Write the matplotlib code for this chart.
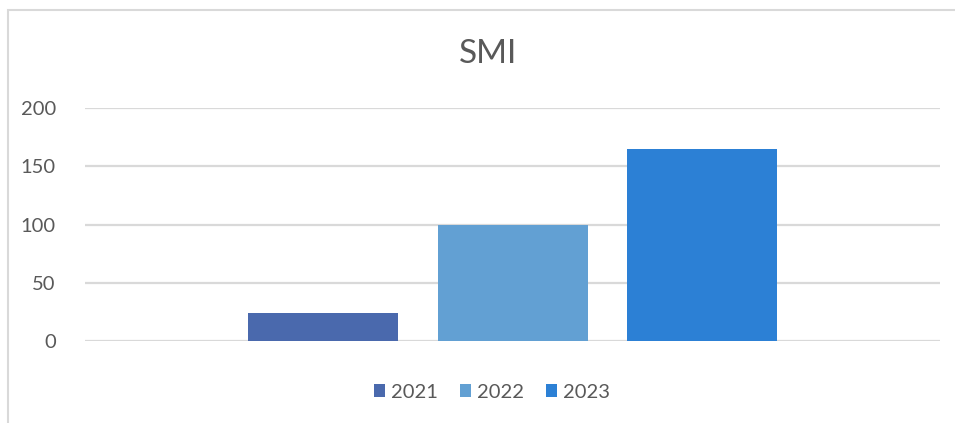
import matplotlib.pyplot as plt
from matplotlib.patches import Rectangle

# valores
series = ['2021', '2022', '2023']
valores = [24, 100, 165]
cores = ['#4a69ad', '#62a0d3', '#2c80d5']
yticks = [0, 50, 100, 150, 200]

plt.rcParams['font.family'] = ['Lato', 'DejaVu Sans']
cinza = '#595959'

fig = plt.figure(figsize=(9.55, 4.23), dpi=100)
ax = fig.add_axes([85/955, 1 - 341/423, 855/955, (341 - 108)/423])

largura = 150/855
passo = 189.5/855
for i, (s, v, c) in enumerate(zip(series, valores, cores)):
    ax.bar((i - 1)*passo, v, width=largura, color=c, label=s, zorder=3)

ax.set_xlim(-0.5, 0.5)
ax.set_ylim(0, 200)
ax.set_yticks(yticks)
ax.set_xticks([])
ax.grid(axis='y', color='#d9d9d9', linewidth=1.6, zorder=0)
ax.tick_params(axis='y', length=0, pad=21, labelsize=14.5, labelcolor=cinza)
for sp in ax.spines.values():
    sp.set_visible(False)

fig.text(488/955, 1 - 54/423, 'SMI', ha='center', va='center', fontsize=24, color=cinza)

leg = fig.legend(loc='center', bbox_to_anchor=(492/955, 1 - 392/423), ncol=3,
                 frameon=False, fontsize=14.5, handlelength=0.55, handleheight=0.6,
                 handletextpad=0.3, columnspacing=1.1, labelcolor=cinza)

# borda da área do gráfico
fig.patches.append(Rectangle((8/955, -0.1), 1.2, 1 - 10/423 + 0.1, transform=fig.transFigure,
                             fill=False, edgecolor='#d9d9d9', linewidth=1.5))

fig.savefig('out.png', dpi=100)
